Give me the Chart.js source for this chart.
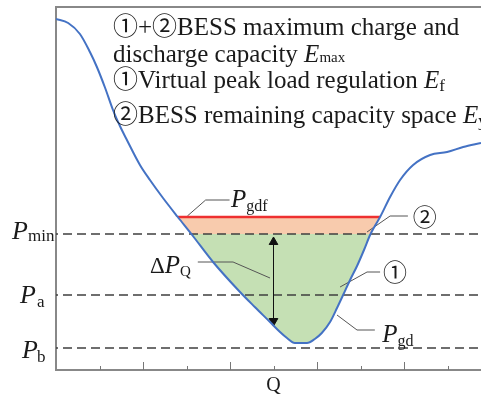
<!DOCTYPE html>
<html>
<head>
<meta charset="utf-8">
<script src="https://cdn.jsdelivr.net/npm/chart.js@4"></script>
<style>
  html, body { margin: 0; padding: 0; background: #fff; overflow: hidden; }
</style>
</head>
<body>
<canvas id="myChart" width="481" height="398"></canvas>
<script>
const ctx = document.getElementById("myChart").getContext("2d");

// load curve P_gd (x in tick units, y in arbitrary power units)
const curveX = [0.00, 0.28, 0.55, 0.78, 0.94, 1.13, 1.31, 1.47, 1.63, 1.93, 2.16, 2.46, 2.80, 3.13, 3.61, 4.23, 4.57, 4.92, 5.15, 5.31, 5.49, 5.77, 5.95, 6.11, 6.30, 6.46, 6.60, 6.76, 6.92, 7.08, 7.22, 7.33, 7.45, 7.68, 7.91, 8.21, 8.60, 8.99, 9.36, 9.77];
const curveY = [351, 347, 336, 318, 303, 282, 260, 244, 230, 205, 190, 172, 153, 135, 108, 78, 63, 48, 38, 32, 27, 27, 31, 37, 48, 62, 75, 90, 104, 120, 135, 144, 153, 173, 190, 205, 215, 218, 223, 227];

// horizontal levels
const levelNames = ["min", "a", "b"];
const levelValues = [136, 75, 22];
const pGdf = 153;
const pGdfRange = [2.80, 7.45];

// ΔP_Q arrow at Q
const qX = 5;
const arrowY = [128, 49];

const xTicks = [1, 2, 3, 4, 5, 6, 7, 8, 9];
const xMax = 9.77;
const yMax = 363;

// leader lines for the labels
const leaders = {
  gdf: [[3.02, 154], [3.44, 170], [3.99, 170]],
  two: [[7.15, 138], [7.68, 154], [8.09, 154]],
  dq:  [[3.26, 108], [4.07, 108], [4.92, 92]],
  one: [[6.53, 83], [7.15, 98], [7.45, 98]],
  gd:  [[6.46, 55], [6.92, 40], [7.33, 40]],
};

const pts = (xs, ys) => xs.map((x, i) => ({ x: x, y: ys[i] }));
const curve = pts(curveX, curveY);

let datasets = [];

// orange part: between P_gdf and the curve
datasets.push({
  data: curve,
  borderWidth: 0,
  pointRadius: 0,
  cubicInterpolationMode: "monotone",
  fill: { target: { value: pGdf }, above: "rgba(0,0,0,0)", below: "#F8CBAD" },
  order: 9,
});
// green part: between P_min and the curve
datasets.push({
  data: curve,
  borderWidth: 0,
  pointRadius: 0,
  cubicInterpolationMode: "monotone",
  fill: { target: { value: levelValues[0] }, above: "rgba(0,0,0,0)", below: "#C5E0B4" },
  order: 8,
});
// dashed levels
levelValues.forEach((v) => {
  datasets.push({
    data: [{ x: 0, y: v }, { x: xMax, y: v }],
    borderColor: "#3f3f3f",
    borderWidth: 1.6,
    borderDash: [9, 5],
    borderDashOffset: 7,
    pointRadius: 0,
    order: 7,
  });
});
// leader lines
Object.values(leaders).forEach((l) => {
  datasets.push({
    data: l.map((p) => ({ x: p[0], y: p[1] })),
    borderColor: "#555",
    borderWidth: 1,
    pointRadius: 0,
    order: 6,
  });
});
// arrow
datasets.push({
  data: [{ x: qX, y: arrowY[0] }, { x: qX, y: arrowY[1] }],
  borderColor: "#111",
  borderWidth: 1,
  pointStyle: "triangle",
  pointRadius: 5,
  pointRotation: [0, 180],
  pointBackgroundColor: "#111",
  pointBorderColor: "#111",
  order: 5,
});
// P_gdf red line
datasets.push({
  data: [{ x: pGdfRange[0], y: pGdf }, { x: pGdfRange[1], y: pGdf }],
  borderColor: "#EE3030",
  borderWidth: 2.5,
  pointRadius: 0,
  order: 2,
});
// P_gd curve
datasets.push({
  data: curve,
  borderColor: "#4472C4",
  borderWidth: 2,
  pointRadius: 0,
  cubicInterpolationMode: "monotone",
  fill: false,
  order: 1,
});

const serif = '"Liberation Serif", "Noto Sans CJK SC", serif';

function subText(c, x, y, main, sub, mainSize, subSize, dy, italic) {
  c.font = (italic ? "italic " : "") + mainSize + "px " + serif;
  c.fillText(main, x, y);
  const w = c.measureText(main).width;
  c.font = subSize + "px " + serif;
  c.fillText(sub, x + w, y + dy);
}

const labelsPlugin = {
  id: "labels",
  afterDraw(chart) {
    const c = chart.ctx;
    const xs = chart.scales.x;
    const ys = chart.scales.y;
    const area = chart.chartArea;
    c.save();

    // inward ticks, alternating length
    c.strokeStyle = "#777";
    c.lineWidth = 1;
    xTicks.forEach((t) => {
      const px = Math.round(xs.getPixelForValue(t)) + 0.5;
      const len = t % 2 === 0 ? 8 : 4;
      c.beginPath();
      c.moveTo(px, area.bottom);
      c.lineTo(px, area.bottom - len);
      c.stroke();
    });

    c.fillStyle = "#1a1a1a";
    c.textBaseline = "alphabetic";
    c.textAlign = "left";

    // legend text block
    c.font = "25px " + serif;
    c.fillText("\u2460+\u2461BESS maximum charge and", 113, 35);
    c.fillText("discharge capacity ", 113, 62);
    let w = c.measureText("discharge capacity ").width;
    subText(c, 113 + w, 62, "E", "max", 25, 15, 0, true);
    c.font = "25px " + serif;
    c.fillText("\u2460Virtual peak load regulation ", 113, 88);
    w = c.measureText("\u2460Virtual peak load regulation ").width;
    subText(c, 113 + w, 88, "E", "f", 25, 17, 3, true);
    c.font = "25px " + serif;
    c.fillText("\u2461BESS remaining capacity space ", 113, 123);
    w = c.measureText("\u2461BESS remaining capacity space ").width;
    subText(c, 113 + w, 123, "E", "y", 25, 17, 3, true);

    // level labels on the left
    const lx = [[12, 28], [20, 37], [22, 37]];
    const ld = [[5, 7], [8, 12], [10, 14]];
    levelValues.forEach((v, i) => {
      const py = ys.getPixelForValue(v);
      c.font = "italic 26px " + serif;
      c.fillText("P", lx[i][0], py + ld[i][0]);
      c.font = "17px " + serif;
      c.fillText(levelNames[i], lx[i][1], py + ld[i][1]);
    });

    // curve labels
    subText(c, xs.getPixelForValue(4.0) + 1, ys.getPixelForValue(pGdf) - 10, "P", "gdf", 25, 16, 4, true);
    c.font = "24px " + serif;
    c.fillText("\u2461", xs.getPixelForValue(8.2), ys.getPixelForValue(pGdf) + 9);
    c.fillText("\u2460", xs.getPixelForValue(7.52), ys.getPixelForValue(98) + 9);
    c.font = "23px " + serif;
    c.fillText("\u0394", 150, ys.getPixelForValue(97));
    subText(c, 150 + c.measureText("\u0394").width, ys.getPixelForValue(97), "P", "Q", 25, 15, 3, true);
    subText(c, xs.getPixelForValue(7.5), ys.getPixelForValue(28), "P", "gd", 25, 16, 4, true);

    // axis title
    c.font = "20px " + serif;
    c.textAlign = "center";
    c.fillText("Q", xs.getPixelForValue(qX), 391);
    c.restore();
  },
};

const axisOpts = {
  type: "linear",
  ticks: { display: false },
  grid: { display: false, drawTicks: false },
  border: { display: true, color: "#888", width: 2 },
};

const myChart = new Chart(ctx, {
  type: "line",
  data: { datasets: datasets },
  options: {
    responsive: false,
    animation: false,
    devicePixelRatio: 1,
    layout: { autoPadding: false, padding: { left: 56, top: 7, right: 0, bottom: 28 } },
    plugins: { legend: { display: false }, tooltip: { enabled: false } },
    elements: { line: { tension: 0 } },
    scales: {
      x: { ...axisOpts, min: 0, max: xMax },
      xTop: { ...axisOpts, position: "top", min: 0, max: xMax },
      y: { ...axisOpts, min: 0, max: yMax },
    },
  },
  plugins: [labelsPlugin],
});
</script>
</body>
</html>
